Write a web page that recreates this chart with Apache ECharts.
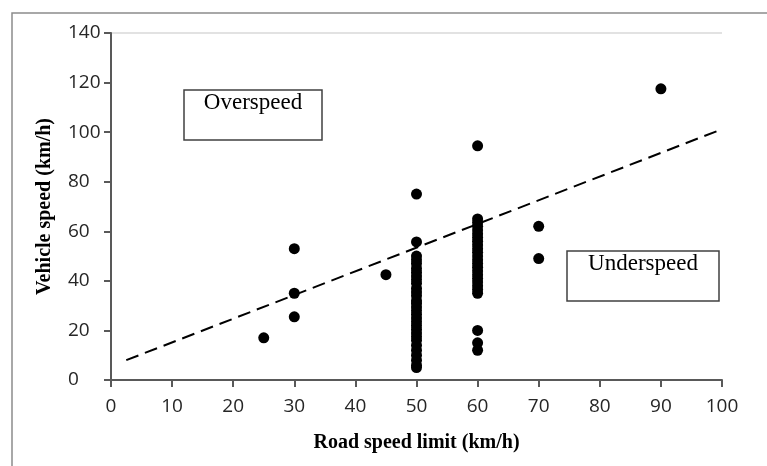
<!DOCTYPE html>
<html>
<head>
<meta charset="utf-8">
<script src="https://cdn.jsdelivr.net/npm/echarts@6/dist/echarts.min.js"></script>
<style>
    html, body {margin: 0; padding: 0; background: #fff;}
    #chart {width: 767px; height: 466px;}
</style>
</head>
<body>
<div id="chart"></div>
<script>
    // observed speeds, grouped by road speed limit
    var speedLimits = [25, 30, 30, 30, 45, 50, 70, 70, 90];
    var speeds = [17, 53, 35, 25.5, 42.5, 75, 62, 49, 117.5];

    var col50 = [55.7, 50, 48.5, 47, 45, 43.5, 42, 40.5, 39, 37, 35.5, 34, 32, 31, 29.5, 28,
        26.5, 25, 23.5, 22, 20.5, 19, 17.5, 16, 14, 12, 10, 8, 6, 5];
    var col60 = [94.5, 65, 63.5, 62, 60.5, 59, 57.5, 56, 54.5, 53, 51.5, 50, 48.5, 47, 45.5,
        44, 42.5, 41, 39.5, 38, 36.5, 35, 20, 15, 12];

    // dashed reference line
    var lineX = [2.5, 100];
    var lineY = [8, 101.2];

    var xTicks = [0, 100, 10];
    var yTicks = [0, 140, 20];

    var points = [];
    var i;
    for (i = 0; i < speedLimits.length; i++) {
        points.push([speedLimits[i], speeds[i]]);
    }
    for (i = 0; i < col50.length; i++) {
        points.push([50, col50[i]]);
    }
    for (i = 0; i < col60.length; i++) {
        points.push([60, col60[i]]);
    }

    var axisColor = '#595959';
    var labelFont = '"Open Sans", "Noto Sans", sans-serif';
    var serif = '"Liberation Serif", "DejaVu Serif", serif';

    var option = {
        backgroundColor: '#fff',
        animation: false,
        grid: {left: 111, right: 45, top: 33, bottom: 86},
        xAxis: {
            type: 'value',
            min: xTicks[0],
            max: xTicks[1],
            interval: xTicks[2],
            name: 'Road speed limit (km/h)',
            nameLocation: 'middle',
            nameGap: 53,
            nameTextStyle: {fontFamily: serif, fontWeight: 'bold', fontSize: 20, color: '#000'},
            axisLine: {show: true, lineStyle: {color: axisColor, width: 2}},
            axisTick: {show: true, length: 7, lineStyle: {color: axisColor, width: 2}},
            axisLabel: {fontFamily: labelFont, fontSize: 19, color: '#262626', margin: 17},
            splitLine: {show: false}
        },
        yAxis: {
            type: 'value',
            min: yTicks[0],
            max: yTicks[1],
            interval: yTicks[2],
            name: 'Vehicle speed (km/h)',
            nameLocation: 'middle',
            nameGap: 56,
            nameTextStyle: {fontFamily: serif, fontWeight: 'bold', fontSize: 20, color: '#000'},
            axisLine: {show: true, lineStyle: {color: axisColor, width: 2}},
            axisTick: {show: true, length: 7, lineStyle: {color: axisColor, width: 2}},
            axisLabel: {fontFamily: labelFont, fontSize: 19, color: '#262626', margin: 43, align: 'left'},
            splitLine: {
                show: true,
                lineStyle: {
                    color: ['rgba(0,0,0,0)', 'rgba(0,0,0,0)', 'rgba(0,0,0,0)', 'rgba(0,0,0,0)',
                        'rgba(0,0,0,0)', 'rgba(0,0,0,0)', 'rgba(0,0,0,0)', '#d9d9d9'],
                    width: 1.5
                }
            }
        },
        series: [
            {
                type: 'line',
                data: [[lineX[0], lineY[0]], [lineX[1], lineY[1]]],
                symbol: 'none',
                lineStyle: {color: '#000', width: 2, type: [13, 7]},
                z: 2
            },
            {
                type: 'scatter',
                data: points,
                symbolSize: 11,
                itemStyle: {color: '#000', opacity: 1},
                z: 3
            }
        ],
        graphic: [
            {
                type: 'polyline',
                shape: {points: [[12, 470], [12, 13], [770, 13]]},
                style: {stroke: '#8c8c8c', lineWidth: 1.5, fill: null}
            },
            {
                type: 'rect',
                shape: {x: 184, y: 90, width: 138, height: 50},
                style: {stroke: '#404040', lineWidth: 1.5, fill: '#fff'},
                z: 10
            },
            {
                type: 'text',
                x: 253, y: 91,
                style: {text: 'Overspeed', font: '23px ' + serif, fill: '#000', align: 'center', verticalAlign: 'top'},
                z: 11
            },
            {
                type: 'rect',
                shape: {x: 567, y: 251, width: 152, height: 50},
                style: {stroke: '#404040', lineWidth: 1.5, fill: '#fff'},
                z: 10
            },
            {
                type: 'text',
                x: 643, y: 252,
                style: {text: 'Underspeed', font: '23px ' + serif, fill: '#000', align: 'center', verticalAlign: 'top'},
                z: 11
            }
        ]
    };

    var myChart = echarts.init(document.getElementById('chart'));
    myChart.setOption(option);
</script>
</body>
</html>
